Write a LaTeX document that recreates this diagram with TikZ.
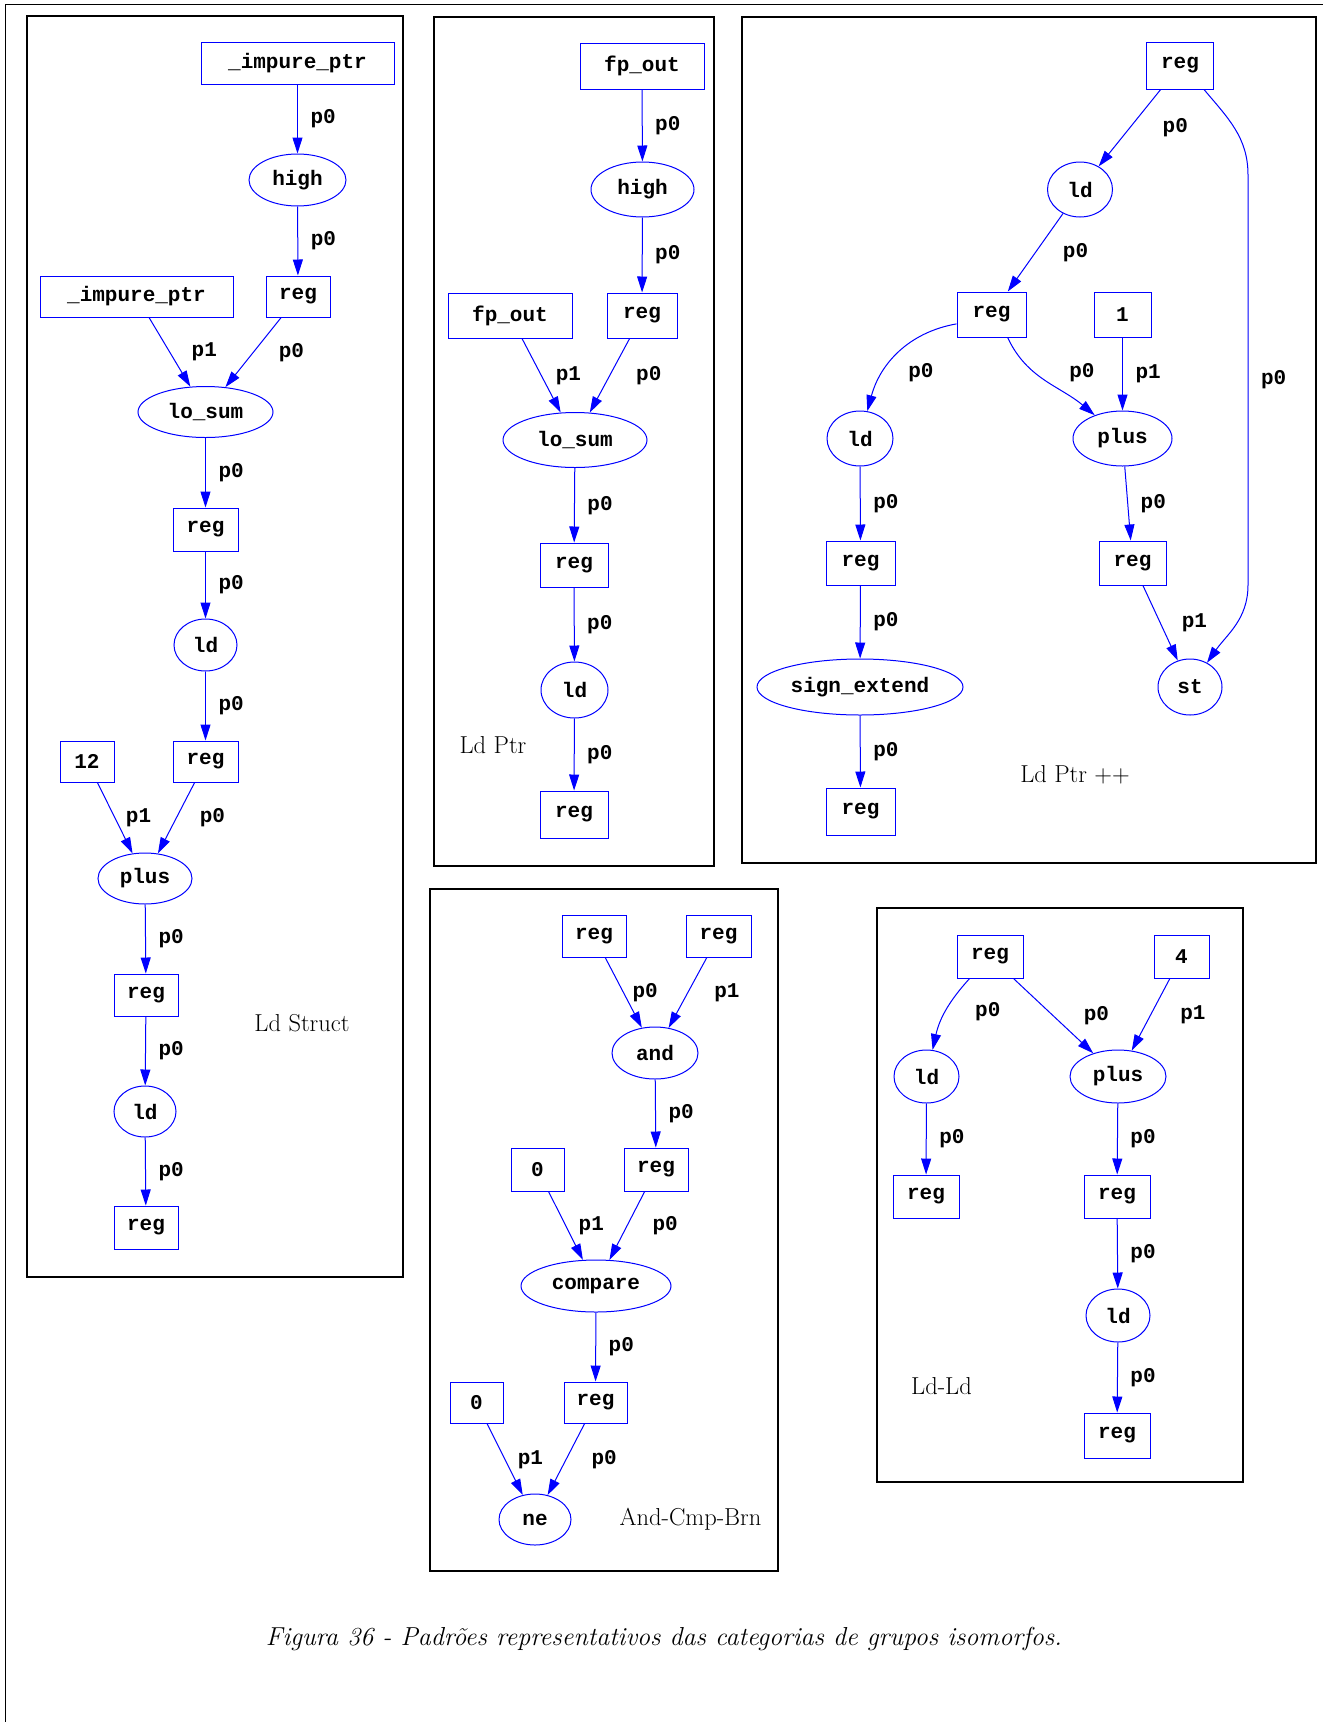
\documentclass[tikz,border=0pt]{standalone}
\usepackage{fontspec}
\newfontfamily\gvmono{Liberation Mono}
\newcommand{\gvtext}{\gvmono\bfseries\fontsize{21}{21}\selectfont}
\usetikzlibrary{shapes.geometric,arrows.meta}

\begin{document}
\begin{tikzpicture}[x=1pt,y=-1pt,
    leaf/.style={rectangle, draw=gvblue, line width=1pt, inner sep=0pt,
      minimum width=64, minimum height=43, font=\gvtext},
    op/.style={ellipse, draw=gvblue, line width=1pt, inner sep=0pt,
      minimum width=63, minimum height=52, font=\gvtext},
    flow/.style={draw=gvblue, line width=1pt, -{Triangle[length=16pt,width=10pt]}},
    port/.style={anchor=west, inner sep=0pt, xshift=12.5pt, font=\gvtext},
    panel/.style={draw=black, line width=1.5pt},
    tag/.style={font=\fontsize{24.5}{28}\selectfont}]
  \definecolor{gvblue}{RGB}{0,0,255}

  \useasboundingbox (0,0) rectangle (1323,1722);
  \draw[line width=1pt] (5,1722) -- (5,4.3) -- (1323,4.3);

  \draw[panel] (27,16) rectangle (403,1277);
  \draw[panel] (434,17) rectangle (714,866);
  \draw[panel] (742,17) rectangle (1316,863);
  \draw[panel] (430,889) rectangle (778,1571);
  \draw[panel] (877,908) rectangle (1243,1482);

  % Ld Struct
  \node[leaf, minimum width=193, minimum height=42] (s1) at (297.5,63) {\_impure\_ptr};
  \node[op, minimum width=97] (s2) at (297.5,180) {high};
  \node[leaf, minimum height=41] (s3) at (298,296.5) {reg};
  \node[leaf, minimum width=193, minimum height=41] (s4) at (136.5,296.5) {\_impure\_ptr};
  \node[op, minimum width=135, minimum height=51] (s5) at (205.5,412) {lo\_sum};
  \node[leaf, minimum width=65] (s6) at (205.5,529.5) {reg};
  \node[op] (s7) at (205.5,645) {ld};
  \node[leaf, minimum width=54, minimum height=41] (s8) at (87,761.5) {12};
  \node[leaf, minimum width=65, minimum height=41] (s9) at (205.5,761.5) {reg};
  \node[op, minimum width=94, minimum height=51] (s10) at (145,878.5) {plus};
  \node[leaf, minimum height=42] (s11) at (146,995) {reg};
  \node[op, minimum width=62, minimum height=51] (s12) at (145,1111.5) {ld};
  \node[leaf] (s13) at (146,1227.5) {reg};
  \node[tag] (tS) at (302,1023) {Ld Struct};

  \draw[flow] (s1) -- node[port] {p0} (s2);
  \draw[flow] (s2) -- node[port] {p0} (s3);
  \draw[flow] (s4) -- node[port, xshift=9] {p1} (s5);
  \draw[flow] (s3) -- node[port, xshift=12.5] {p0} (s5);
  \draw[flow] (s5) -- node[port] {p0} (s6);
  \draw[flow] (s6) -- node[port] {p0} (s7);
  \draw[flow] (s7) -- node[port] {p0} (s9);
  \draw[flow] (s8) -- node[port, xshift=-2] {p1} (s10);
  \draw[flow] (s9) -- node[port, xshift=10.5] {p0} (s10);
  \draw[flow] (s10) -- node[port] {p0} (s11);
  \draw[flow] (s11) -- node[port] {p0} (s12);
  \draw[flow] (s12) -- node[port] {p0} (s13);

  % Ld Ptr
  \node[leaf, minimum width=124, minimum height=46] (p1) at (642,66) {fp\_out};
  \node[op, minimum width=103, minimum height=55] (p2) at (642.5,189.5) {high};
  \node[leaf, minimum width=70, minimum height=45] (p3) at (642,315.5) {reg};
  \node[leaf, minimum width=124, minimum height=45] (p4) at (510,315.5) {fp\_out};
  \node[op, minimum width=144, minimum height=55] (p5) at (575,440) {lo\_sum};
  \node[leaf, minimum width=68, minimum height=44] (p6) at (574,565) {reg};
  \node[op, minimum width=67, minimum height=56] (p7) at (574.5,690) {ld};
  \node[leaf, minimum width=68, minimum height=47] (p8) at (574,814.5) {reg};
  \node[tag] (tP) at (493,745) {Ld Ptr};

  \draw[flow] (p1) -- node[port] {p0} (p2);
  \draw[flow] (p2) -- node[port] {p0} (p3);
  \draw[flow] (p4) -- node[port, xshift=1.5] {p1} (p5);
  \draw[flow] (p3) -- node[port, xshift=13.5] {p0} (p5);
  \draw[flow] (p5) -- node[port] {p0} (p6);
  \draw[flow] (p6) -- node[port] {p0} (p7);
  \draw[flow] (p7) -- node[port] {p0} (p8);

  % Ld Ptr ++
  \node[leaf, minimum width=67, minimum height=47] (q1) at (1180,65.5) {reg};
  \node[op, minimum width=65, minimum height=55] (q2) at (1080,189.5) {ld};
  \node[leaf, minimum width=69, minimum height=45] (q3) at (991.5,314.5) {reg};
  \node[leaf, minimum width=57, minimum height=45] (q4) at (1122.5,314.5) {1};
  \node[op, minimum width=66, minimum height=55] (q5) at (860,438.5) {ld};
  \node[op, minimum width=99, minimum height=55] (q6) at (1122.5,438.5) {plus};
  \node[leaf, minimum width=69, minimum height=44] (q7) at (860.5,563) {reg};
  \node[leaf, minimum width=67, minimum height=44] (q8) at (1132.5,563) {reg};
  \node[op, minimum width=206, minimum height=56] (q9) at (860,687) {sign\_extend};
  \node[op, minimum width=64, minimum height=56] (q10) at (1190,687) {st};
  \node[leaf, minimum width=69, minimum height=47] (q11) at (860.5,811.5) {reg};
  \node[tag] (tQ) at (1075,775) {Ld Ptr ++};
  \coordinate (qa) at (1248,175);
  \coordinate (qb) at (1248,585);

  \draw[flow] (q1) -- node[port, xshift=20] {p0} (q2);
  \draw[flow] (q2) -- node[port, xshift=14.5] {p0} (q3);
  \draw[flow] (q3.195) to[out=190,in=75] node[port, pos=0.6, xshift=5, yshift=-10] {p0} (q5);
  \draw[flow] (q3.-55) to[out=-65,in=140] node[port, xshift=11, yshift=8] {p0} (q6);
  \draw[flow] (q4) -- node[port] {p1} (q6);
  \draw[flow] (q1.-45) to[out=-50,in=90] (qa) -- node[port] {p0} (qb) to[out=-90,in=55] (q10);
  \draw[flow] (q5) -- node[port] {p0} (q7);
  \draw[flow] (q6) -- node[port] {p0} (q8);
  \draw[flow] (q7) -- node[port] {p0} (q9);
  \draw[flow] (q8) -- node[port, xshift=8.5] {p1} (q10);
  \draw[flow] (q9) -- node[port] {p0} (q11);

  % And-Cmp-Brn
  \node[leaf, minimum height=42] (a1) at (594,936) {reg};
  \node[leaf, minimum width=65, minimum height=42] (a2) at (718.5,936) {reg};
  \node[op, minimum width=86] (a3) at (655,1053) {and};
  \node[leaf, minimum width=53] (a4) at (537.5,1169.5) {0};
  \node[leaf] (a5) at (656,1169.5) {reg};
  \node[op, minimum width=150] (a6) at (596,1286) {compare};
  \node[leaf, minimum width=53, minimum height=41] (a7) at (476.5,1402.5) {0};
  \node[leaf, minimum width=63, minimum height=41] (a8) at (595.5,1402.5) {reg};
  \node[op, minimum width=72, minimum height=51] (a9) at (535,1519.5) {ne};
  \node[tag] (tA) at (690.5,1519) {And-Cmp-Brn};

  \draw[flow] (a1) -- node[port, xshift=-4] {p0} (a3);
  \draw[flow] (a2) -- node[port, xshift=13.5] {p1} (a3);
  \draw[flow] (a3) -- node[port] {p0} (a5);
  \draw[flow] (a4) -- node[port] {p1} (a6);
  \draw[flow] (a5) -- node[port, xshift=12.5] {p0} (a6);
  \draw[flow] (a6) -- node[port] {p0} (a8);
  \draw[flow] (a7) -- node[port] {p1} (a9);
  \draw[flow] (a8) -- node[port, xshift=12.5] {p0} (a9);

  % Ld-Ld
  \node[leaf, minimum width=66] (d1) at (990,956.5) {reg};
  \node[leaf, minimum width=55] (d2) at (1181.5,956.5) {4};
  \node[op, minimum width=65, minimum height=53] (d3) at (926.5,1076.5) {ld};
  \node[op, minimum width=96, minimum height=53] (d4) at (1118,1076.5) {plus};
  \node[leaf, minimum width=66] (d5) at (926,1196.5) {reg};
  \node[leaf, minimum width=66] (d6) at (1117,1196.5) {reg};
  \node[op, minimum width=64, minimum height=53] (d7) at (1118,1315.5) {ld};
  \node[leaf, minimum width=66, minimum height=45] (d8) at (1117,1435.5) {reg};
  \node[tag] (tD) at (941.5,1386.5) {Ld-Ld};

  \draw[flow] (d1) to[bend right=15] node[port, xshift=16.5] {p0} (d3);
  \draw[flow] (d1) -- node[port, xshift=17.5] {p0} (d4);
  \draw[flow] (d2) -- node[port, xshift=16.5] {p1} (d4);
  \draw[flow] (d3) -- node[port] {p0} (d5);
  \draw[flow] (d4) -- node[port] {p0} (d6);
  \draw[flow] (d6) -- node[port] {p0} (d7);
  \draw[flow] (d7) -- node[port] {p0} (d8);

  \node[font=\itshape\fontsize{26}{30}\selectfont] (cap) at (664,1639)
    {Figura 36 - Padrões representativos das categorias de grupos isomorfos.};
\end{tikzpicture}
\end{document}
